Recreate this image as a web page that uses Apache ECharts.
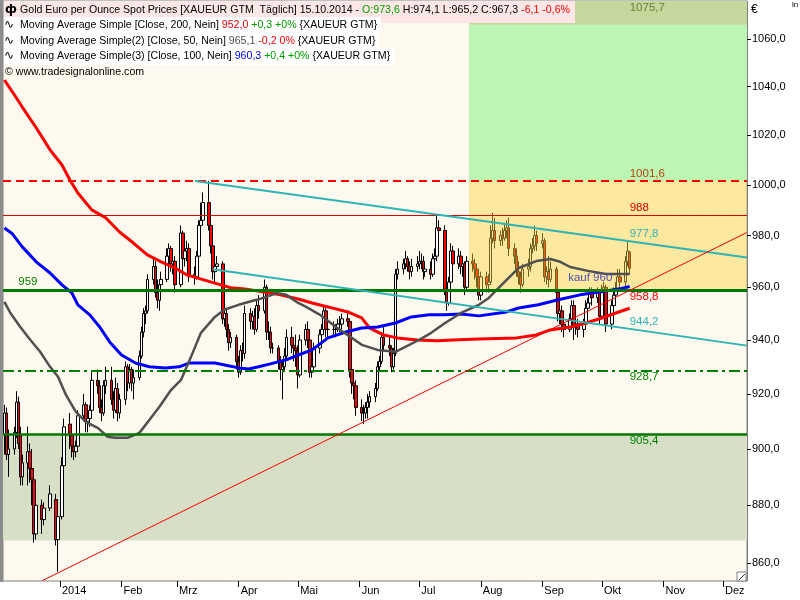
<!DOCTYPE html>
<html><head><meta charset="utf-8">
<script src="https://cdn.jsdelivr.net/npm/echarts@6/dist/echarts.min.js"></script>
<style>html,body{margin:0;padding:0;background:#fff}#c{width:800px;height:600px}</style>
</head><body><div id="c"></div>
<script>
// ---------- DATA ----------
// daily candles per month: [day, open, high, low, close]
const dec2013 = [
[4,905,916,898,913],[5,913,915,896,898],[6,898,907,890,900],[9,900,908,898,906],[10,906,921,904,917],
[11,917,919,900,902],[12,905,908,887,890],[13,890,898,887,895],[16,895,908,887,899],[17,899,902,888,893],
[18,893,900,880,889],[19,889,891,867,870],[20,870,884,868,880],[23,880,882,870,875],[24,875,881,873,879],
[27,879,887,878,884],[30,882,884,866,868],[31,868,878,857,876]];
const jan2014 = [
[2,876,897,875,894],[3,894,911,893,908],[6,909,913,900,905],[7,905,907,897,901],[8,901,905,896,899],
[9,899,903,897,901],[10,901,914,899,912],[13,912,920,910,916],[14,916,917,906,910],[15,910,915,906,911],
[16,911,916,908,914],[17,914,928,912,925],[20,925,929,920,923],[21,923,925,913,915],[22,915,918,910,913],
[23,913,925,912,923],[24,923,930,920,925],[27,925,930,916,918],[28,918,921,911,914],[29,914,926,913,922],
[30,922,924,910,913],[31,913,920,911,918]];
const feb2014 = [
[3,918,932,916,930],[4,930,931,921,924],[5,924,931,922,929],[6,929,930,921,924],[7,924,929,918,926],
[10,926,936,925,934],[11,934,945,933,943],[12,943,952,941,950],[13,950,953,946,951],[14,951,965,950,963],
[17,963,971,961,968],[18,968,970,956,958],[19,958,963,952,955],[20,955,963,951,961],[21,961,966,958,963],
[24,963,975,962,972],[25,972,977,969,975],[26,975,976,966,969],[27,969,973,965,970],[28,970,972,958,961]];
const mar2014 = [
[3,961,984,960,981],[4,981,982,968,971],[5,971,976,968,974],[6,974,978,970,975],[7,975,977,962,965],
[10,965,968,961,964],[11,964,974,963,972],[12,972,986,971,984],[13,984,993,982,986],[14,986,997,985,993],
[17,993,1001.6,982,984],[18,984,986,973,976],[19,976,978,963,966],[20,966,971,962,968],[21,968,972,966,969],
[24,969,970,946,948],[25,948,953,945,950],[26,950,952,941,944],[27,944,946,936,939],[28,939,943,937,941],
[31,941,942,929,932]];
const apr2014 = [
[1,932,934,926,928],[2,928,938,927,936],[3,936,939,932,935],[4,935,953,933,950],[7,950,952,944,947],
[8,947,951,944,949],[9,949,952,942,944],[10,944,955,943,953],[11,953,957,948,951],[14,951,963,950,960],
[15,960,961,940,943],[16,943,947,940,943],[17,943,945,935,937],[18,937,939,935,937],[21,937,938,929,932],
[22,932,934,925,929],[23,929,932,918,930],[24,930,937,928,934],[25,934,944,933,941],[28,941,945,935,938],
[29,938,940,932,937],[30,937,942,930,936]];
const may2014 = [
[1,936,938,922,927],[2,927,942,926,940],[5,940,946,938,944],[6,944,947,937,940],[7,940,941,926,928],
[8,928,934,926,930],[9,930,939,929,937],[12,937,944,935,942],[13,942,946,940,944],[14,944,953,943,951],
[15,951,952,941,944],[16,944,947,941,944],[19,944,947,942,944],[20,944,946,941,944],[21,944,948,943,946],
[22,946,949,943,946],[23,946,950,944,948],[26,948,950,945,947],[27,947,948,926,929],[28,929,930,920,924],
[29,924,927,918,923],[30,923,925,912,915]];
const jun2014 = [
[2,915,918,910,913],[3,913,916,909,913],[4,913,917,911,915],[5,915,920,911,917],[6,917,921,915,919],
[9,919,924,917,922],[10,922,932,921,930],[11,930,934,928,932],[12,932,943,931,941],[13,941,945,936,938],
[16,938,941,934,937],[17,937,938,928,930],[18,930,937,929,935],[19,935,967,934,965],[20,965,970,963,967],
[23,967,971,965,969],[24,969,974,967,971],[25,971,972,966,968],[26,968,970,963,966],[27,966,971,964,968],
[30,968,972,966,969]];
const jul2014 = [
[1,969,974,967,970],[2,970,973,967,970],[3,970,972,963,966],[4,966,969,964,967],[7,967,970,963,965],
[8,965,973,964,971],[9,971,975,968,972],[10,972,988,970,983],[11,983,986,979,982],[14,982,984,957,959],
[15,959,961,951,954],[16,954,964,953,962],[17,962,977,960,974],[18,974,976,966,969],[21,969,975,967,972],
[22,972,974,965,968],[23,968,972,964,969],[24,969,970,957,960],[25,960,972,959,970],[28,970,973,966,969],
[29,969,971,963,967],[30,967,969,960,964],[31,964,966,955,957]];
const aug2014 = [
[1,957,966,955,964],[4,964,966,958,961],[5,961,965,958,962],[6,962,984,961,979],[7,979,989,977,982],
[8,982,987,975,978],[11,978,982,976,980],[12,980,983,976,979],[13,979,985,978,982],[14,982,986,979,983],
[15,983,987,972,975],[18,975,977,969,972],[19,972,975,964,966],[20,966,970,961,964],[21,964,966,958,961],
[22,961,969,960,967],[25,967,971,964,968],[26,968,977,966,975],[27,975,979,973,976],[28,976,984,974,980],
[29,980,982,974,977]];
const sep2014 = [
[1,977,981,975,978],[2,978,979,962,964],[3,964,968,961,966],[4,966,972,960,963],[5,963,970,962,967],
[8,967,968,955,958],[9,958,960,947,950],[10,950,953,946,951],[11,951,953,943,946],[12,946,948,941,944],
[15,944,950,943,948],[16,948,955,946,953],[17,953,955,940,945],[18,945,949,942,946],[19,946,948,941,944],
[22,944,948,941,946],[23,946,955,944,952],[24,952,956,949,954],[25,954,960,952,958],[26,958,960,953,956],
[29,956,960,954,958],[30,958,959,946,949]];
const oct2014 = [
[1,949,961,948,959],[2,959,962,956,960],[3,960,961,943,946],[6,946,955,944,953],[7,953,960,951,957],
[8,957,962,954,959],[9,959,967,957,964],[10,964,967,959,962],[13,962,972,960,970],[14,970,978,968,974],
[15,973.6,974.1,965.2,967.3]];

// moving averages [date, value]
const ma200 = [['2013-12-04',1042.8],['2013-12-08',1037.9],['2013-12-13',1031.6],['2013-12-20',1023.1],['2013-12-27',1014.1],['2014-01-02',1008.0],['2014-01-06',1002.0],['2014-01-10',996.8],['2014-01-17',990.1],['2014-01-24',987.0],['2014-01-31',981.4],['2014-02-07',977.1],['2014-02-14',972.5],['2014-02-21',969.8],['2014-02-28',967.4],['2014-03-06',964.7],['2014-03-11',963.6],['2014-03-20',961.6],['2014-03-28',959.8],['2014-04-04',959.3],['2014-04-14',958.2],['2014-04-22',957.1],['2014-05-01',955.5],['2014-05-08',954.0],['2014-05-16',952.5],['2014-05-26',950.6],['2014-06-02',948.3],['2014-06-06',944.5],['2014-06-13',941.9],['2014-06-20',940.8],['2014-06-30',940.0],['2014-07-10',939.7],['2014-07-21',940.1],['2014-07-31',940.4],['2014-08-19',940.8],['2014-08-29',941.9],['2014-09-05',943.8],['2014-09-15',944.9],['2014-09-23',946.4],['2014-10-01',948.3],['2014-10-08',950.2],['2014-10-15',952.0]];
const ma100 = [['2013-12-04',983.0],['2013-12-08',980.7],['2013-12-13',975.6],['2013-12-20',969.8],['2013-12-27',965.5],['2014-01-02',960.9],['2014-01-07',957.8],['2014-01-10',953.3],['2014-01-16',949.5],['2014-01-21',944.9],['2014-01-26',939.3],['2014-02-01',934.4],['2014-02-08',931.4],['2014-02-15',930.0],['2014-02-23',929.6],['2014-03-02',930.0],['2014-03-07',931.4],['2014-03-20',931.4],['2014-03-25',930.7],['2014-04-01',929.6],['2014-04-06',929.2],['2014-04-11',930.0],['2014-04-17',931.1],['2014-04-25',932.6],['2014-05-01',934.4],['2014-05-08',936.3],['2014-05-16',940.8],['2014-05-25',943.0],['2014-06-02',944.5],['2014-06-10',944.9],['2014-06-19',946.4],['2014-06-27',948.7],['2014-07-06',949.5],['2014-07-14',949.5],['2014-07-22',949.8],['2014-07-31',949.1],['2014-08-14',950.6],['2014-08-20',952.1],['2014-08-30',953.3],['2014-09-09',955.2],['2014-09-20',957.1],['2014-09-26',957.8],['2014-10-03',958.6],['2014-10-10',959.4],['2014-10-15',960.3]];
const ma50 = [['2013-12-04',954.4],['2013-12-07',950.2],['2013-12-12',944.9],['2013-12-17',940.1],['2013-12-22',935.6],['2013-12-27',930.0],['2013-12-31',926.3],['2014-01-04',919.6],['2014-01-09',913.4],['2014-01-14',909.8],['2014-01-20',907.6],['2014-01-25',904.4],['2014-01-29',904.0],['2014-02-04',904.0],['2014-02-10',905.8],['2014-02-15',910.5],['2014-02-20',915.2],['2014-02-26',921.5],['2014-03-03',925.2],['2014-03-08',933.7],['2014-03-13',942.7],['2014-03-20',948.7],['2014-03-25',951.5],['2014-04-01',953.3],['2014-04-10',955.2],['2014-04-15',956.3],['2014-04-20',957.8],['2014-04-25',957.1],['2014-05-01',954.0],['2014-05-05',952.5],['2014-05-12',949.5],['2014-05-20',944.9],['2014-05-28',940.8],['2014-06-02',938.2],['2014-06-10',936.3],['2014-06-19',935.6],['2014-06-24',937.4],['2014-07-01',940.1],['2014-07-07',942.7],['2014-07-14',946.4],['2014-07-22',950.2],['2014-07-31',953.3],['2014-08-05',955.9],['2014-08-14',962.8],['2014-08-20',967.4],['2014-08-29',970.1],['2014-09-05',970.9],['2014-09-10',969.8],['2014-09-15',967.8],['2014-09-24',966.3],['2014-10-03',965.1],['2014-10-10',965.1],['2014-10-15',965.1]];

// horizontal levels
const levelDashedRed = 1001.6;
const levelThinRed = 988;
const level959 = 959;
const levelDashDot = 928.7;
const level905 = 905.4;
// zones [from, to]
const zoneGreyGreen = [867.7, 905.4];
const zoneYellow = [959, 1001.6];
const zoneGreen = [1001.6, 1066];
const zoneOlive = [1066, 1076.2];
const zoneStart = '2014-07-26';
// trend lines [[date, value],[date, value]]
const upperChannel = [['2014-03-10', 1001.6], ['2014-12-13', 971.5]];
const lowerChannel = [['2014-03-19', 966.9], ['2014-12-13', 937.9]];
const upTrend = [['2013-12-23', 853.9], ['2014-12-13', 981.2]];
// axis ticks
const monthTicks = ['2014-01-01','2014-02-01','2014-03-01','2014-04-01','2014-05-01','2014-06-01','2014-07-01','2014-08-01','2014-09-01','2014-10-01','2014-11-01','2014-12-01'];
const monthLabels = ['2014','Feb','Mrz','Apr','Mai','Jun','Jul','Aug','Sep','Okt','Nov','Dez'];
const yTicks = [860,880,900,920,940,960,980,1000,1020,1040,1060];
// annotation texts [text, date, value]
const annotations = [
  ['1075,7','2014-10-15',1075.7],['1001,6','2014-10-15',1001.6],['988','2014-10-15',988],
  ['977,8','2014-10-15',977.8],['958,8','2014-10-15',958.8],['944,2','2014-10-15',944.2],
  ['928,7','2014-10-15',928.7],['905,4','2014-10-15',905.4],['959','2013-12-11',959],
  ['kauf 960','2014-09-14',960],['0,00% - 904,9','2013-12-03',904.9]
];

// ---------- BUILD ----------
const BASE = Date.UTC(2014,0,1);
function dn(s){const p=s.split('-');return (Date.UTC(+p[0],+p[1]-1,+p[2])-BASE)/86400000;}
const months=[[2013,12,dec2013],[2014,1,jan2014],[2014,2,feb2014],[2014,3,mar2014],[2014,4,apr2014],[2014,5,may2014],[2014,6,jun2014],[2014,7,jul2014],[2014,8,aug2014],[2014,9,sep2014],[2014,10,oct2014]];
const candleData=[];
months.forEach(([y,m,rows])=>rows.forEach(r=>{
  const d=(Date.UTC(y,m-1,r[0])-BASE)/86400000;
  candleData.push([d,r[1],r[4],r[3],r[2]]);
}));
const toLine = arr => arr.map(p=>[dn(p[0]),p[1]]);
const tickDays = monthTicks.map(dn);
const labelMap = {}; tickDays.forEach((d,i)=>labelMap[d]=monthLabels[i]);
const FONT='"Liberation Sans", Arial, sans-serif';
const LF='10.6px '+FONT;
const teal='#2fb4b4';

const annStyle = {
  '1075,7':{color:'#6a7f34',dy:6}, '1001,6':{color:'#b8400f',dy:-7}, '988':{color:'#e00000',dy:-7},
  '977,8':{color:teal,dy:-7}, '958,8':{color:'#ff0000',dy:6}, '944,2':{color:teal,dy:-7},
  '928,7':{color:'#008000',dy:7}, '905,4':{color:'#008000',dy:7}, '959':{color:'#008000',dy:-8},
  'kauf 960':{color:'#5050b8',dy:-9}, '0,00% - 904,9':{color:'#2030c8',dy:8}
};

const chart = echarts.init(document.getElementById('c'), null, {renderer:'canvas'});
const xMin = (3-60)/1.985, xMax=(747-60)/1.985;
const zs = dn(zoneStart);

const option = {
  animation:false,
  backgroundColor:'#ffffff',
  textStyle:{fontFamily:FONT},
  grid:{left:3,right:53,top:1,bottom:19,show:true,backgroundColor:'#fdf9ee',borderColor:'#808080',borderWidth:1},
  xAxis:{type:'value',min:xMin,max:xMax,splitLine:{show:false},
    axisLine:{show:false,onZero:false},
    axisTick:{show:true,customValues:tickDays,length:6,lineStyle:{color:'#000'}},
    axisLabel:{customValues:tickDays,formatter:v=>labelMap[Math.round(v)]||'',align:'left',padding:[0,0,0,2],margin:4,color:'#000',fontSize:11,fontFamily:FONT}},
  yAxis:{type:'log',logBase:10,position:'right',min:853.8,max:1076.2,splitLine:{show:false},
    axisLine:{show:true,onZero:false,lineStyle:{color:'#808080'}},
    axisTick:{show:true,customValues:yTicks,length:4,lineStyle:{color:'#000'}},
    axisLabel:{customValues:yTicks,formatter:v=>v.toFixed(1).replace('.',','),margin:5,color:'#000',fontSize:11,fontFamily:FONT}},
  series:[
    {type:'line',name:'zones',data:[],silent:true,
      markArea:{silent:true,z:1,data:[
        [{xAxis:xMin,yAxis:zoneGreyGreen[0],itemStyle:{color:'#d7dfc7'}},{xAxis:xMax,yAxis:zoneGreyGreen[1]}],
        [{xAxis:zs,yAxis:zoneGreen[0],itemStyle:{color:'#bdf5b3'}},{xAxis:xMax,yAxis:zoneGreen[1]}],
        [{xAxis:zs,yAxis:zoneOlive[0],itemStyle:{color:'#c5d79d'}},{xAxis:xMax,yAxis:zoneOlive[1]}]
      ]}},
    {type:'candlestick',name:'XAUEUR',data:candleData,encode:{x:0,y:[1,2,3,4]},barWidth:3,z:2,silent:true,
      itemStyle:{color:'#ffffff',color0:'#ff0000',borderColor:'#000000',borderColor0:'#000000',borderWidth:1}},
    {type:'line',name:'yellow',data:[],silent:true,
      markArea:{silent:true,z:3,data:[
        [{xAxis:zs,yAxis:zoneYellow[0],itemStyle:{color:'rgba(250,210,60,0.45)'}},{xAxis:xMax,yAxis:zoneYellow[1]}]
      ]}},
    {type:'line',name:'MA200',data:toLine(ma200),showSymbol:false,z:4,lineStyle:{color:'#ff0000',width:3},silent:true},
    {type:'line',name:'MA100',data:toLine(ma100),showSymbol:false,z:4,lineStyle:{color:'#0000ff',width:3},silent:true},
    {type:'line',name:'MA50',data:toLine(ma50),showSymbol:false,z:4,lineStyle:{color:'#505050',width:2.5},silent:true},
    {type:'line',name:'levels',data:[],silent:true,
      markLine:{silent:true,symbol:['none','none'],label:{show:false},z:5,data:[
        [{xAxis:xMin,yAxis:levelDashedRed,lineStyle:{color:'#ff0000',width:2,type:[8,5]}},{xAxis:xMax,yAxis:levelDashedRed}],
        [{xAxis:xMin,yAxis:levelThinRed,lineStyle:{color:'#e00000',width:1,type:'solid'}},{xAxis:xMax,yAxis:levelThinRed}],
        [{xAxis:xMin,yAxis:level959,lineStyle:{color:'#007800',width:3,type:'solid'}},{xAxis:xMax,yAxis:level959}],
        [{xAxis:xMin,yAxis:levelDashDot,lineStyle:{color:'#008000',width:2,type:[11,4,3,4]}},{xAxis:xMax,yAxis:levelDashDot}],
        [{xAxis:xMin,yAxis:level905,lineStyle:{color:'#007800',width:2.5,type:'solid'}},{xAxis:xMax,yAxis:level905}],
        [{coord:[dn(upperChannel[0][0]),upperChannel[0][1]],lineStyle:{color:teal,width:2,type:'solid'}},{coord:[dn(upperChannel[1][0]),upperChannel[1][1]]}],
        [{coord:[dn(lowerChannel[0][0]),lowerChannel[0][1]],lineStyle:{color:teal,width:2,type:'solid'}},{coord:[dn(lowerChannel[1][0]),lowerChannel[1][1]]}],
        [{coord:[dn(upTrend[0][0]),upTrend[0][1]],lineStyle:{color:'#ff0000',width:1,type:'solid'}},{coord:[dn(upTrend[1][0]),upTrend[1][1]]}]
      ]},
      markPoint:{silent:true,z:6,symbol:'circle',symbolSize:1,itemStyle:{color:'rgba(0,0,0,0)'},
        data:annotations.map(a=>({coord:[dn(a[1]),a[2]],
          label:{show:true,formatter:a[0],position:'inside',align:'left',verticalAlign:'middle',offset:[0,annStyle[a[0]].dy],
            color:annStyle[a[0]].color,fontSize:11.5,fontFamily:FONT}}))}}
  ],
  graphic:[
    {type:'rect',shape:{x:0,y:0,width:3,height:582},style:{fill:'#8c8c8c'},z:50},
    {type:'rect',shape:{x:4,y:1,width:571,height:22},style:{fill:'#fde6e6'},z:50},
    {type:'rect',shape:{x:4,y:17,width:377,height:16},style:{fill:'#ffffff'},z:51},
    {type:'rect',shape:{x:4,y:33,width:375,height:16},style:{fill:'#ffffff'},z:51},
    {type:'rect',shape:{x:4,y:49,width:391,height:16},style:{fill:'#ffffff'},z:51},
    {type:'text',x:5,y:10,z:52,style:{text:'ф',font:'bold 12px "DejaVu Sans"',fill:'#000',verticalAlign:'middle'}},
    {type:'text',x:20,y:10,z:52,style:{verticalAlign:'middle',font:LF,fill:'#000',
      text:'Gold Euro per Ounce Spot Prices [XAUEUR GTM  Täglich] 15.10.2014 - {g|O:973,6} H:974,1 L:965,2 C:967,3 {r|-6,1 -0,6%}',
      rich:{g:{fill:'#00a000',font:LF},r:{fill:'#ff0000',font:LF}}}},
    {type:'text',x:4,y:25,z:52,style:{text:'∿',font:'12px "DejaVu Sans"',fill:'#000',verticalAlign:'middle'}},
    {type:'text',x:20,y:25,z:52,style:{verticalAlign:'middle',font:LF,fill:'#000',
      text:'Moving Average Simple [Close, 200, Nein] {r|952,0} {g|+0,3 +0%} {XAUEUR GTM}',
      rich:{g:{fill:'#00a000',font:LF},r:{fill:'#ff0000',font:LF}}}},
    {type:'text',x:4,y:41,z:52,style:{text:'∿',font:'12px "DejaVu Sans"',fill:'#000',verticalAlign:'middle'}},
    {type:'text',x:20,y:41,z:52,style:{verticalAlign:'middle',font:LF,fill:'#000',
      text:'Moving Average Simple(2) [Close, 50, Nein] {d|965,1} {r|-0,2 0%} {XAUEUR GTM}',
      rich:{d:{fill:'#505050',font:LF},r:{fill:'#ff0000',font:LF}}}},
    {type:'text',x:4,y:56,z:52,style:{text:'∿',font:'12px "DejaVu Sans"',fill:'#000',verticalAlign:'middle'}},
    {type:'text',x:20,y:56,z:52,style:{verticalAlign:'middle',font:LF,fill:'#000',
      text:'Moving Average Simple(3) [Close, 100, Nein] {b|960,3} {g|+0,4 +0%} {XAUEUR GTM}',
      rich:{b:{fill:'#0000ff',font:LF},g:{fill:'#00a000',font:LF}}}},
    {type:'text',x:5,y:72,z:52,style:{text:'© www.tradesignalonline.com',font:LF,fill:'#000',verticalAlign:'middle'}},
    {type:'text',x:751,y:10,z:52,style:{text:'€',font:'12px '+FONT,fill:'#000',verticalAlign:'middle'}},
    {type:'text',x:792,y:5,z:52,style:{text:'ln',font:'8px '+FONT,fill:'#000',verticalAlign:'middle'}},
    {type:'rect',shape:{x:737,y:572,width:9,height:9},style:{fill:'#ffffff',stroke:'#808080',lineWidth:1},z:52},
    {type:'line',shape:{x1:739,y1:580,x2:745,y2:574},style:{stroke:'#404040',lineWidth:1},z:53}
  ]
};
chart.setOption(option);
</script></body></html>
